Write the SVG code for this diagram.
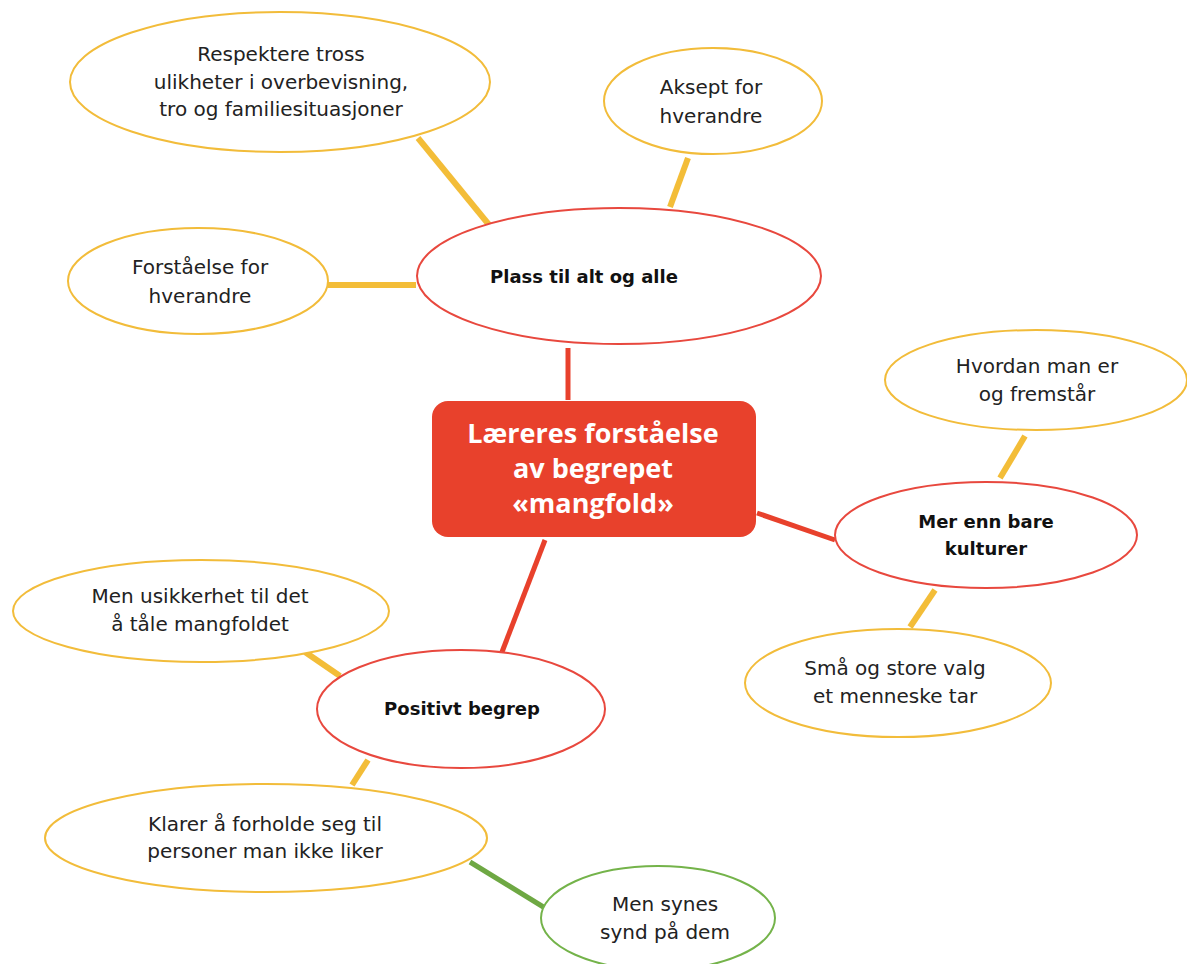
<svg xmlns="http://www.w3.org/2000/svg" width="1187" height="964" viewBox="0 0 1187 964">
<style>
.y{fill:#fff;stroke:#F2BC3A;stroke-width:2}
.r{fill:#fff;stroke:#E8483E;stroke-width:2}
.g{fill:#fff;stroke:#74B34A;stroke-width:2}
.t{font-family:"DejaVu Sans","Open Sans",sans-serif;font-size:20px;fill:#222;text-anchor:middle}
.b{font-family:"DejaVu Sans","Open Sans",sans-serif;font-size:18px;font-weight:bold;fill:#111;text-anchor:middle}
.c{font-family:"Open Sans","Liberation Sans",sans-serif;font-size:27px;font-weight:bold;fill:#fff;text-anchor:middle}
.ly{stroke:#F3BD38;stroke-width:6;fill:none}
.lr{stroke:#E8412C;stroke-width:5;fill:none}
.lg{stroke:#6EA843;stroke-width:5;fill:none}
</style>
<rect width="1187" height="964" fill="#fff"/>
<g id="connectors">
<line class="ly" x1="418" y1="138" x2="490" y2="226"/>
<line class="ly" x1="688" y1="158" x2="670" y2="207"/>
<line class="ly" x1="328" y1="285" x2="416" y2="285"/>
<line class="lr" x1="568" y1="348" x2="568" y2="400"/>
<line class="lr" x1="757" y1="513" x2="835" y2="540"/>
<line class="ly" x1="1025" y1="436" x2="1000" y2="478"/>
<line class="ly" x1="935" y1="590" x2="910" y2="627"/>
<line class="lr" x1="545" y1="540" x2="502" y2="652"/>
<line class="ly" x1="305" y1="652" x2="340" y2="676"/>
<line class="ly" x1="368" y1="760" x2="352" y2="785"/>
<line class="lg" x1="470" y1="862" x2="545" y2="908"/>
</g>
<g id="respektere">
<ellipse class="y" cx="280" cy="82" rx="210" ry="70"/>
<text class="t" x="281" y="61">Respektere tross</text>
<text class="t" x="281" y="89">ulikheter i overbevisning,</text>
<text class="t" x="281" y="116">tro og familiesituasjoner</text>
</g>
<g id="aksept">
<ellipse class="y" cx="713" cy="101" rx="109" ry="53"/>
<text class="t" x="711" y="94">Aksept for</text>
<text class="t" x="711" y="123">hverandre</text>
</g>
<g id="forstaelse">
<ellipse class="y" cx="198" cy="281" rx="130" ry="53"/>
<text class="t" x="200" y="274">Forståelse for</text>
<text class="t" x="200" y="303">hverandre</text>
</g>
<g id="plass">
<ellipse class="r" cx="619" cy="276" rx="202" ry="68"/>
<text class="b" x="584" y="283">Plass til alt og alle</text>
</g>
<g id="center">
<rect x="432" y="401" width="324" height="136" rx="16" fill="#E8412C"/>
<text class="c" x="593" y="443">Læreres forståelse</text>
<text class="c" x="593" y="478">av begrepet</text>
<text class="c" x="593" y="513">«mangfold»</text>
</g>
<g id="hvordan">
<ellipse class="y" cx="1036" cy="380" rx="151" ry="50"/>
<text class="t" x="1037" y="373">Hvordan man er</text>
<text class="t" x="1037" y="401">og fremstår</text>
</g>
<g id="merenn">
<ellipse class="r" cx="986" cy="535" rx="151" ry="53"/>
<text class="b" x="986" y="528">Mer enn bare</text>
<text class="b" x="986" y="555">kulturer</text>
</g>
<g id="sma">
<ellipse class="y" cx="898" cy="683" rx="153" ry="54"/>
<text class="t" x="895" y="675">Små og store valg</text>
<text class="t" x="895" y="703">et menneske tar</text>
</g>
<g id="usikkerhet">
<ellipse class="y" cx="201" cy="611" rx="188" ry="51"/>
<text class="t" x="200" y="603">Men usikkerhet til det</text>
<text class="t" x="200" y="631">å tåle mangfoldet</text>
</g>
<g id="positivt">
<ellipse class="r" cx="461" cy="709" rx="144" ry="59"/>
<text class="b" x="462" y="715">Positivt begrep</text>
</g>
<g id="klarer">
<ellipse class="y" cx="266" cy="838" rx="221" ry="54"/>
<text class="t" x="265" y="831">Klarer å forholde seg til</text>
<text class="t" x="265" y="858">personer man ikke liker</text>
</g>
<g id="mensynes">
<ellipse class="g" cx="658" cy="918" rx="117" ry="52"/>
<text class="t" x="665" y="911">Men synes</text>
<text class="t" x="665" y="939">synd på dem</text>
</g>
</svg>
